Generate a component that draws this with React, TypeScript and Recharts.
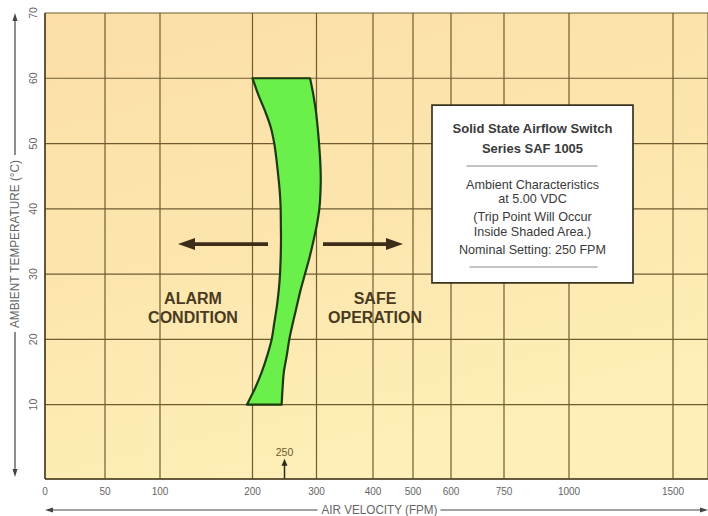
import React from 'react';
import {
  ComposedChart,
  Scatter,
  XAxis,
  YAxis,
  CartesianGrid,
  ReferenceLine,
  ReferenceArea,
  ReferenceDot,
} from 'recharts';

// ---- data -------------------------------------------------------------
// Velocity tick values (FPM) of the hand drawn, non-uniform axis
const xTickValues = [0, 50, 100, 200, 300, 400, 500, 600, 750, 1000, 1500];
// where each of those ticks sits along the axis (axis units)
const xTickStops = [0, 60, 115, 207.5, 271.5, 328, 368, 406, 459, 524, 628];
const yTickValues = [10, 20, 30, 40, 50, 60, 70];

// trip band: ambient temperature (°C) and the low / high trip velocity (FPM)
const tempLevels = [60, 57.5, 55, 52.5, 50, 47.5, 45, 42.5, 40, 37.5, 35, 32.5, 30, 27.5, 25, 22.5, 20, 17.5, 15, 12.5, 10];
const tripLowFpm = [200, 209, 219.5, 228.5, 234, 237.5, 240.3, 242.7, 244, 244.3, 244.5, 244, 243, 241, 238, 234, 230, 223, 214.5, 204, 194];
const tripHighFpm = [290, 295, 299, 302, 304.5, 306.5, 307.5, 307, 305, 300.5, 295, 289, 282, 275, 269, 263, 257.5, 253.5, 249, 247, 245.5];
const nominalFpm = 250;

const boxLines = [
  'Solid State Airflow Switch',
  'Series SAF 1005',
  'Ambient Characteristics',
  'at 5.00 VDC',
  '(Trip Point Will Occur',
  'Inside Shaded Area.)',
  'Nominal Setting: 250 FPM',
];

// ---- scale helpers ----------------------------------------------------
const X_MAX = 663;
const Y_MIN = -1.4;
const Y_MAX = 70;

function toAxis(v: number): number {
  const n = xTickValues.length;
  let i = 0;
  while (i < n - 2 && v > xTickValues[i + 1]) i++;
  const t = (v - xTickValues[i]) / (xTickValues[i + 1] - xTickValues[i]);
  return xTickStops[i] + t * (xTickStops[i + 1] - xTickStops[i]);
}

const tripPolygon = [
  ...tempLevels.map((t, i) => ({ x: toAxis(tripLowFpm[i]), y: t })),
  ...tempLevels.map((t, i) => ({ x: toAxis(tripHighFpm[i]), y: t })).reverse(),
];

// smooth (Catmull-Rom) rendering of an open run of screen points
function smoothRun(pts: { x: number; y: number }[]): string {
  let d = '';
  for (let i = 0; i < pts.length - 1; i++) {
    const p0 = pts[i - 1] || pts[i];
    const p1 = pts[i];
    const p2 = pts[i + 1];
    const p3 = pts[i + 2] || p2;
    const c1x = p1.x + (p2.x - p0.x) / 6;
    const c1y = p1.y + (p2.y - p0.y) / 6;
    const c2x = p2.x - (p3.x - p1.x) / 6;
    const c2y = p2.y - (p3.y - p1.y) / 6;
    d += ` C${c1x},${c1y} ${c2x},${c2y} ${p2.x},${p2.y}`;
  }
  return d;
}

// ---- styles -----------------------------------------------------------
const GRID = '#6f5d30';
const BROWN = '#3d2c18';
const LABEL_BROWN = '#4a3a1f';
const AXIS_TEXT = '#666';

const arrowShape =
  (head: 'start' | 'end', color: string, width: number, headLen: number, headW: number) =>
  (p: any) => {
    const { x1, y1, x2, y2 } = p;
    const tx = head === 'end' ? x2 : x1;
    const ty = head === 'end' ? y2 : y1;
    const bx = head === 'end' ? x1 : x2;
    const by = head === 'end' ? y1 : y2;
    const dx = tx - bx;
    const dy = ty - by;
    const len = Math.hypot(dx, dy) || 1;
    const ux = dx / len;
    const uy = dy / len;
    const hx = tx - ux * headLen;
    const hy = ty - uy * headLen;
    const nx = -uy;
    const ny = ux;
    return (
      <g>
        <line x1={bx} y1={by} x2={hx + ux} y2={hy + uy} stroke={color} strokeWidth={width} />
        <polygon
          points={`${tx},${ty} ${hx + (nx * headW) / 2},${hy + (ny * headW) / 2} ${hx - (nx * headW) / 2},${hy - (ny * headW) / 2}`}
          fill={color}
        />
      </g>
    );
  };

const YTick = (p: any) => (
  <text
    x={0}
    y={0}
    transform={`translate(${p.x - 12},${p.y}) rotate(-90)`}
    textAnchor="middle"
    dominantBaseline="central"
    fontSize={10.5}
    fill={AXIS_TEXT}
  >
    {p.payload.value}
  </text>
);

const XTitle = (p: any) => {
  const vb = p.viewBox || { x: 45, y: 479, width: 663, height: 37 };
  const cx = vb.x + vb.width / 2 + 3;
  const cy = vb.y + 31;
  const tw = 116;
  const c = '#444';
  return (
    <g>
      <line x1={vb.x + 6} y1={cy} x2={cx - tw / 2 - 4} y2={cy} stroke={c} strokeWidth={1.2} />
      <polygon points={`${vb.x},${cy} ${vb.x + 8},${cy - 2.5} ${vb.x + 8},${cy + 2.5}`} fill={c} />
      <text
        x={cx}
        y={cy}
        textAnchor="middle"
        dominantBaseline="central"
        fontSize={12}
        fill={AXIS_TEXT}
        textLength={tw}
        lengthAdjust="spacingAndGlyphs"
      >
        AIR VELOCITY (FPM)
      </text>
      <line x1={cx + tw / 2 + 3} y1={cy} x2={vb.x + vb.width - 6} y2={cy} stroke={c} strokeWidth={1.2} />
      <polygon
        points={`${vb.x + vb.width},${cy} ${vb.x + vb.width - 8},${cy - 2.5} ${vb.x + vb.width - 8},${cy + 2.5}`}
        fill={c}
      />
    </g>
  );
};

const YTitle = (p: any) => {
  const vb = p.viewBox || { x: 0, y: 13, width: 45, height: 466 };
  const cx = vb.x + 15;
  const cy = vb.y + vb.height / 2 - 2;
  const tl = 168;
  const c = '#444';
  const top = vb.y;
  const bottom = vb.y + vb.height - 2;
  return (
    <g>
      <line x1={cx} y1={top + 6} x2={cx} y2={cy - tl / 2 - 5} stroke={c} strokeWidth={1.2} />
      <polygon points={`${cx},${top} ${cx - 2.5},${top + 8} ${cx + 2.5},${top + 8}`} fill={c} />
      <text
        x={0}
        y={0}
        transform={`translate(${cx},${cy}) rotate(-90)`}
        textAnchor="middle"
        dominantBaseline="central"
        fontSize={12}
        fill={AXIS_TEXT}
        textLength={tl}
        lengthAdjust="spacingAndGlyphs"
      >
        AMBIENT TEMPERATURE (°C)
      </text>
      <line x1={cx} y1={cy + tl / 2 + 4} x2={cx} y2={bottom - 6} stroke={c} strokeWidth={1.2} />
      <polygon points={`${cx},${bottom} ${cx - 2.5},${bottom - 8} ${cx + 2.5},${bottom - 8}`} fill={c} />
    </g>
  );
};

const BoxContent = (p: any) => {
  const vb = p.viewBox || { x: 432, y: 105, width: 201, height: 178 };
  const cx = vb.x + vb.width / 2;
  const y0 = vb.y;
  const txt = '#3a3a3a';
  const offsets = [23, 43, 79.5, 93.5, 112, 127, 145];
  return (
    <g>
      {boxLines.map((s, i) => (
        <text
          key={i}
          x={cx}
          y={y0 + offsets[i]}
          textAnchor="middle"
          dominantBaseline="central"
          fontSize={i < 2 ? 13 : 12.6}
          fontWeight={i < 2 ? 'bold' : 'normal'}
          fill={txt}
        >
          {s}
        </text>
      ))}
      <line x1={cx - 66} y1={y0 + 61} x2={cx + 65} y2={y0 + 61} stroke="#888" strokeWidth={1} />
      <line x1={cx - 63} y1={y0 + 162} x2={cx + 65} y2={y0 + 162} stroke="#888" strokeWidth={1} />
    </g>
  );
};

const wordShape = (word: string, size: number, color: string, weight: string) => (p: any) => (
  <text
    x={p.cx}
    y={p.cy}
    textAnchor="middle"
    dominantBaseline="central"
    fontSize={size}
    fontWeight={weight}
    fill={color}
  >
    {word}
  </text>
);

const BandShape = (p: any) => {
  const pts: { x: number; y: number }[] = p.points || [];
  const n = tempLevels.length;
  if (pts.length < 2 * n) return <g />;
  const low = pts.slice(0, n);
  const high = pts.slice(n, 2 * n);
  const d = `M${low[0].x},${low[0].y}${smoothRun(low)} L${high[0].x},${high[0].y}${smoothRun(high)} Z`;
  return <path d={d} fill="#6bef4b" stroke="#1d3a10" strokeWidth={2.2} strokeLinejoin="round" />;
};

export default function App() {
  const nominalX = toAxis(nominalFpm);
  return (
    <div
      style={{
        position: 'absolute',
        left: 0,
        top: 0,
        width: 708,
        height: 516,
        background: '#fff',
        fontFamily: '"Liberation Sans", Arial, sans-serif',
      }}
    >
      <ComposedChart width={708} height={516} margin={{ top: 13, right: 0, bottom: 0, left: 0 }}>
        <defs>
          <linearGradient id="plotBg" x1="0" y1="0" x2="0.35" y2="1">
            <stop offset="0%" stopColor="#fbdea8" />
            <stop offset="55%" stopColor="#fce6ae" />
            <stop offset="100%" stopColor="#fdefb7" />
          </linearGradient>
        </defs>
        <CartesianGrid stroke={GRID} strokeWidth={1.2} fill="url(#plotBg)" fillOpacity={1} />
        <XAxis
          type="number"
          dataKey="x"
          domain={[0, X_MAX]}
          ticks={xTickStops}
          interval={0}
          allowDataOverflow
          height={37}
          tickSize={0}
          tickMargin={9}
          tickLine={false}
          axisLine={{ stroke: '#4d4026', strokeWidth: 1.5 }}
          tick={{ fill: AXIS_TEXT, fontSize: 10 }}
          tickFormatter={(u: number) => {
            const i = xTickStops.indexOf(u);
            return i >= 0 ? String(xTickValues[i]) : '';
          }}
          label={{ content: XTitle }}
        />
        <YAxis
          type="number"
          dataKey="y"
          domain={[Y_MIN, Y_MAX]}
          ticks={yTickValues}
          interval={0}
          allowDataOverflow
          width={45}
          tickSize={0}
          tickMargin={0}
          tickLine={false}
          axisLine={{ stroke: '#4d4026', strokeWidth: 1.5 }}
          tick={YTick}
          label={{ content: YTitle }}
        />

        <ReferenceArea
          x1={387}
          x2={588}
          y1={28.65}
          y2={55.9}
          fill="#ffffff"
          fillOpacity={1}
          stroke="#3b3322"
          strokeWidth={1.7}
          ifOverflow="visible"
          label={{ content: BoxContent }}
        />

        <ReferenceLine
          segment={[
            { x: 133, y: 34.6 },
            { x: 223, y: 34.6 },
          ]}
          ifOverflow="visible"
          shape={arrowShape('start', BROWN, 3.8, 17, 12)}
        />
        <ReferenceLine
          segment={[
            { x: 278, y: 34.6 },
            { x: 358, y: 34.6 },
          ]}
          ifOverflow="visible"
          shape={arrowShape('end', BROWN, 3.8, 17, 12)}
        />
        <ReferenceLine
          segment={[
            { x: nominalX, y: Y_MIN },
            { x: nominalX, y: 1.7 },
          ]}
          ifOverflow="visible"
          shape={arrowShape('end', '#2e2a1c', 1.5, 7, 6)}
        />

        <ReferenceDot x={148} y={26.2} r={0} ifOverflow="visible" shape={wordShape('ALARM', 16, LABEL_BROWN, 'bold')} />
        <ReferenceDot x={148} y={23.4} r={0} ifOverflow="visible" shape={wordShape('CONDITION', 16, LABEL_BROWN, 'bold')} />
        <ReferenceDot x={330} y={26.2} r={0} ifOverflow="visible" shape={wordShape('SAFE', 16, LABEL_BROWN, 'bold')} />
        <ReferenceDot x={330} y={23.4} r={0} ifOverflow="visible" shape={wordShape('OPERATION', 16, LABEL_BROWN, 'bold')} />
        <ReferenceDot
          x={nominalX}
          y={2.8}
          r={0}
          ifOverflow="visible"
          shape={wordShape(String(nominalFpm), 10.5, '#6b5a2a', 'normal')}
        />

        <Scatter data={tripPolygon} isAnimationActive={false} shape={() => <g />} line={BandShape} />
      </ComposedChart>
    </div>
  );
}
